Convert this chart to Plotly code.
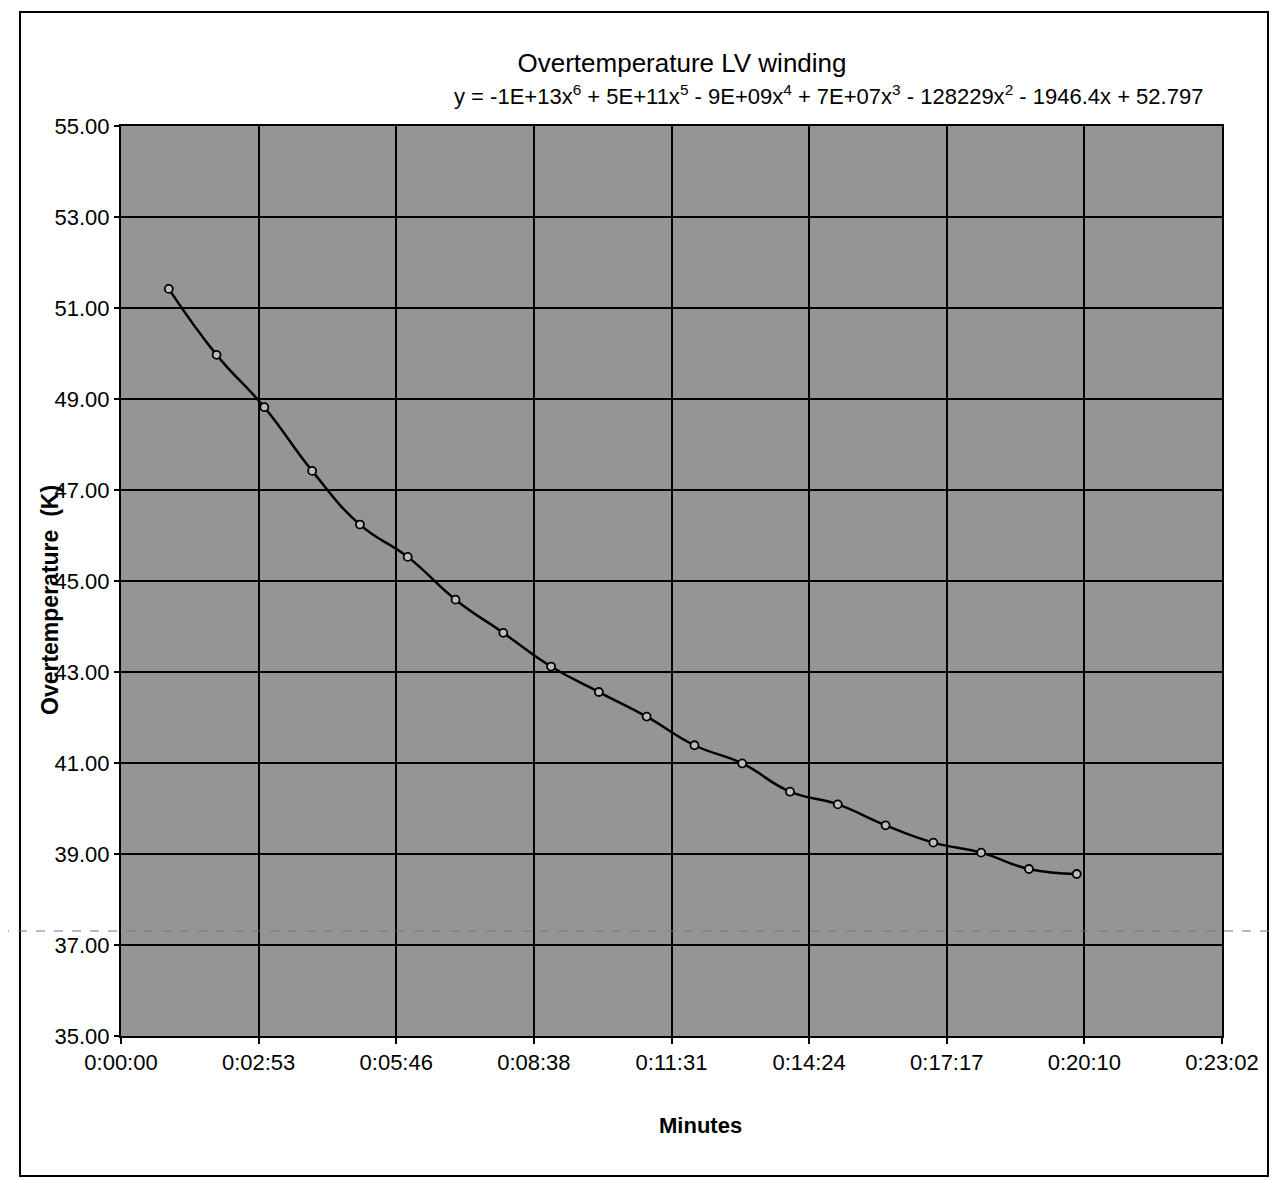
import plotly.graph_objects as go

# Data (time in seconds, overtemperature in K)
time_s = [60, 120, 180, 240, 300, 360, 420, 480, 540, 600,
          660, 720, 780, 840, 900, 960, 1020, 1080, 1140, 1200]
overtemp = [51.42, 49.97, 48.82, 47.42, 46.24, 45.53, 44.59, 43.86, 43.12, 42.56,
            42.02, 41.39, 40.99, 40.37, 40.09, 39.63, 39.25, 39.03, 38.67, 38.56]

x_tickvals = [0, 172.8, 345.6, 518.4, 691.2, 864.0, 1036.8, 1209.6, 1382.4]
x_ticktext = ["0:00:00", "0:02:53", "0:05:46", "0:08:38", "0:11:31",
              "0:14:24", "0:17:17", "0:20:10", "0:23:02"]
y_tickvals = [35, 37, 39, 41, 43, 45, 47, 49, 51, 53, 55]

title_text = "Overtemperature LV winding"
equation_text = ("y = -1E+13x<sup>6</sup> + 5E+11x<sup>5</sup> - 9E+09x<sup>4</sup> + "
                 "7E+07x<sup>3</sup> - 128229x<sup>2</sup> - 1946.4x + 52.797")
x_title = "Minutes"
y_title = "Overtemperature  (K)"

FONT = "Arial, 'Liberation Sans', sans-serif"

# page body adds an 8px margin; work in reference pixel coordinates
OFF = 8
W, H = 1277 - OFF, 1180 - OFF
L, R, T, B = 121, 1222, 126, 1036          # plot area in reference pixels
pw, ph = R - L, B - T


def px(x):
    return (x - L) / pw


def py(y):
    return (B - y) / ph


fig = go.Figure()
fig.add_trace(go.Scatter(
    x=time_s, y=overtemp, mode="lines+markers",
    line=dict(color="black", width=2.5, shape="spline", smoothing=1.3),
    marker=dict(symbol="circle", size=8, color="#bdbdbd",
                line=dict(color="black", width=1.8)),
    showlegend=False,
))

fig.update_layout(
    width=W, height=H,
    margin=dict(l=L - OFF, r=W - (R - OFF), t=T - OFF, b=H - (B - OFF), autoexpand=False),
    paper_bgcolor="white",
    plot_bgcolor="#959595",
    font=dict(family=FONT, size=22, color="black"),
    showlegend=False,
    title=dict(text=title_text, x=(682 - OFF) / W, xanchor="center",
               y=1 - (63 - OFF) / H, yanchor="middle",
               font=dict(family=FONT, size=26, color="black")),
)

fig.update_xaxes(
    range=[0, 1382.4], tickmode="array", tickvals=x_tickvals, ticktext=x_ticktext,
    showgrid=True, gridcolor="black", gridwidth=1.8,
    showline=True, linecolor="black", linewidth=2, mirror=True,
    ticks="outside", ticklen=6, tickcolor="black", tickwidth=1.5,
    zeroline=False, tickfont=dict(family=FONT, size=22, color="black"),
)
fig.update_yaxes(
    range=[35, 55], tickmode="array", tickvals=y_tickvals,
    ticktext=[f"{v:.2f}" for v in y_tickvals],
    showgrid=True, gridcolor="black", gridwidth=1.8,
    showline=True, linecolor="black", linewidth=2, mirror=True,
    ticks="outside", ticklen=5, tickcolor="black", tickwidth=1.5,
    zeroline=False, tickfont=dict(family=FONT, size=22, color="black"),
)

fig.add_annotation(text=equation_text, xref="paper", yref="paper",
                   x=px(829), y=py(95), xanchor="center", yanchor="middle",
                   showarrow=False, font=dict(family=FONT, size=22, color="black"))
fig.add_annotation(text=f"<b>{x_title}</b>", xref="paper", yref="paper",
                   x=px(700), y=py(1125), xanchor="center", yanchor="middle",
                   showarrow=False, font=dict(family=FONT, size=22, color="black"))
fig.add_annotation(text=f"<b>{y_title}</b>", xref="paper", yref="paper",
                   x=px(50), y=py(600), xanchor="center", yanchor="middle",
                   textangle=-90, showarrow=False,
                   font=dict(family=FONT, size=23, color="black"))

# outer chart border
fig.add_shape(type="rect", xref="paper", yref="paper",
              x0=px(20), x1=px(1268), y0=py(1176), y1=py(12),
              line=dict(color="black", width=2), fillcolor="rgba(0,0,0,0)")
# faint dashed fold line from the scanned page
fig.add_shape(type="line", xref="paper", yref="paper",
              x0=px(0), x1=px(1277), y0=py(931), y1=py(931),
              line=dict(color="#777777", width=1, dash="dash"))

fig.write_html("out.html")
